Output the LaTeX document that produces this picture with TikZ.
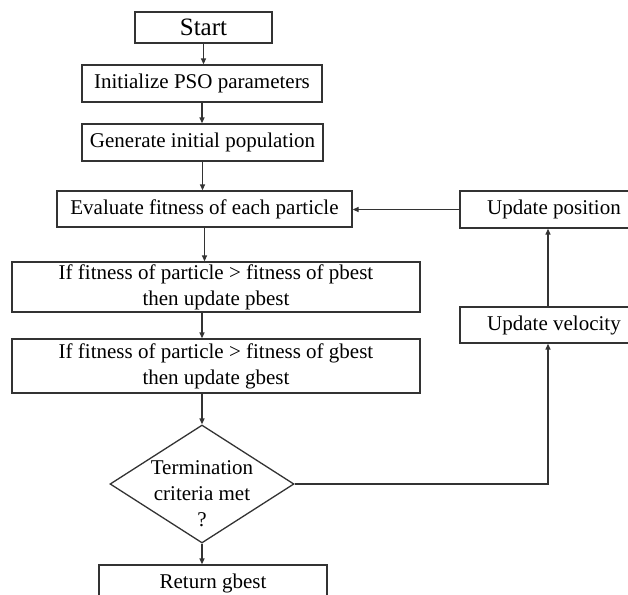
\documentclass[tikz,border=0pt]{standalone}
\usepackage{fontspec}
\setmainfont{Liberation Serif}
\usetikzlibrary{shapes.geometric,arrows.meta}
\begin{document}
\begin{tikzpicture}[%
  x=1pt, y=-1pt,
  nodestyle/.style={%
    rectangle,
    draw=black!80,
    line width=1.3pt,
    inner sep=0pt,
    text centered,
    align=center,
    font=\fontsize{21}{26}\selectfont,
  },
  decisionstyle/.style={%
    diamond,
    draw=black!80,
    line width=1.3pt,
    inner sep=0pt,
    minimum width=184pt,
    minimum height=118pt,
  },
  linkstyle/.style={%
    draw=black!80,
    line width=1.3pt,
    -{Triangle[length=6pt,width=5pt]},
  }
]
  \clip (0,0) rectangle (628,594);
  % main column
  \node [nodestyle, minimum width=137pt, minimum height=31pt, font=\fontsize{25}{30}\selectfont] (start) at (203.5,27.5) {Start};
  \node [nodestyle, minimum width=240pt, minimum height=37pt] (init) at (202,83.5) {Initialize PSO parameters};
  \node [nodestyle, minimum width=241pt, minimum height=37pt] (gen) at (202.5,142.5) {Generate initial population};
  \node [nodestyle, minimum width=295pt, minimum height=36pt] (eval) at (204.5,209) {Evaluate fitness of each particle};
  \node [nodestyle, minimum width=408pt, minimum height=50pt] (pbest) at (216,287) {If fitness of particle > fitness of pbest\\then update pbest};
  \node [nodestyle, minimum width=408pt, minimum height=54pt] (gbest) at (216,366) {If fitness of particle > fitness of gbest\\then update gbest};
  \node [decisionstyle] (term) at (202,484) {};
  \node [font=\fontsize{21}{26}\selectfont, align=center, inner sep=0pt] (termtext) at ([yshift=-10pt]term.center) {Termination\\criteria met\\?};
  \node [nodestyle, minimum width=228pt, minimum height=36pt] (ret) at (213,583) {Return gbest};
  % right column
  \node [nodestyle, minimum width=188pt, minimum height=37pt] (updpos) at (554,209.5) {Update position};
  \node [nodestyle, minimum width=188pt, minimum height=36pt] (updvel) at (554,325) {Update velocity};
  \coordinate (turn) at (548,484);

  \draw [linkstyle] (start.south) -- (start.south |- init.north);
  \draw [linkstyle] (init.south) -- (init.south |- gen.north);
  \draw [linkstyle] (gen.south) -- (gen.south |- eval.north);
  \draw [linkstyle] (eval.south) -- (eval.south |- pbest.north);
  \draw [linkstyle] (term.north |- pbest.south) -- (term.north |- gbest.north);
  \draw [linkstyle] (term.north |- gbest.south) -- (term.north);
  \draw [linkstyle] (term.south) -- (term.south |- ret.north);
  \draw [linkstyle] (term.east) -- (turn) -- (turn |- updvel.south);
  \draw [linkstyle] (turn |- updvel.north) -- (turn |- updpos.south);
  \draw [linkstyle] (updpos.west) -- (updpos.west -| eval.east);
\end{tikzpicture}
\end{document}
